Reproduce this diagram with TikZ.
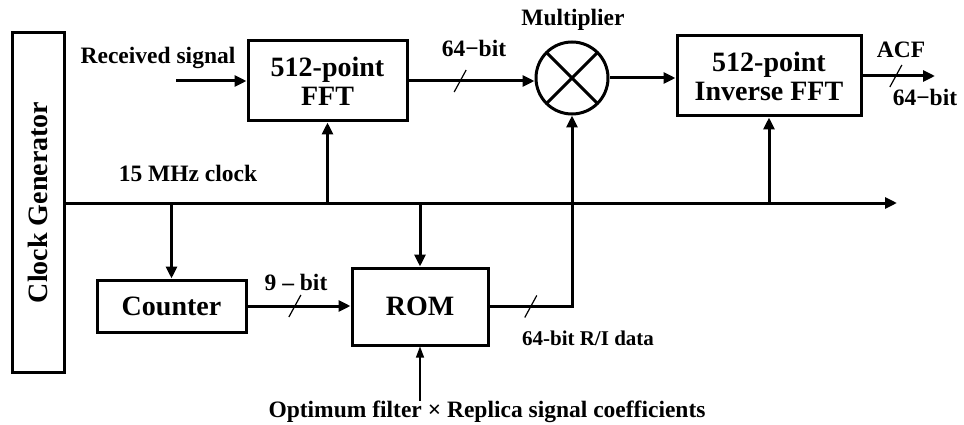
\documentclass[tikz,border=0pt]{standalone}
\usepackage{fontspec}
\usepackage{graphicx}
\setmainfont{Liberation Serif}
\usetikzlibrary{
  arrows.meta,
  calc,
  positioning
}
\tikzset{
  dspBlock/.style={
    draw,
    line width=3pt,
    align=center,
    inner sep=0pt,
    font=\fontsize{28}{29}\selectfont\bfseries
  },
  dspMixer/.style={
    circle,
    draw,
    line width=3pt,
    minimum size=72pt,
    inner sep=0pt,
    path picture={
      \draw[line width=3pt]
        (path picture bounding box.north west) -- (path picture bounding box.south east)
        (path picture bounding box.north east) -- (path picture bounding box.south west);
    }
  },
  dspArrow/.style={line width=3pt, -{Triangle[length=12pt, width=11pt]}},
  coefArrow/.style={line width=1.2pt, -{Triangle[length=11pt, width=8pt]}},
  busSlash/.style={line width=1.2pt},
  dspLabel/.style={font=\fontsize{23.5}{25}\selectfont\bfseries, inner sep=0pt},
  dataLabel/.style={font=\fontsize{21}{23}\selectfont\bfseries, inner sep=0pt}
}

\begin{document}
\begin{tikzpicture}[x=1pt,y=-1pt]
  \useasboundingbox (0,0) rectangle (964,425);

  % blocks
  \node[dspBlock, minimum width=52pt, minimum height=339pt]
    (clk) at (38,202.5) {\rotatebox{90}{Clock Generator}};
  \node[dspBlock, minimum width=159pt, minimum height=80pt]
    (fft) at (327.5,81) {512-point\\FFT};
  \node[dspMixer] (mult) at (572,78) {};
  \node[dspBlock, minimum width=184pt, minimum height=80pt]
    (ifft) at (769,76) {512-point\\Inverse FFT};
  \node[dspBlock, minimum width=149pt, minimum height=52pt]
    (cnt) at (171.5,306) {Counter};
  \node[dspBlock, minimum width=136pt, minimum height=77pt]
    (rom) at (420,306.5) {ROM};

  % free ends
  \coordinate (rxIn) at (176,81);
  \coordinate (busEnd) at (897,203);
  \coordinate (acfOut) at (935,76);

  % labels
  \node[dspLabel] (rxLbl) at (158,58) {Received signal};
  \node[dspLabel] (clkLbl) at (188,173) {15 MHz clock};
  \node[dspLabel] (bitA) at (474,48) {64−bit};
  \node[dspLabel] (multLbl) at (573,20) {Multiplier};
  \node[dspLabel] (acfLbl) at (901,50) {ACF};
  \node[dspLabel] (bitB) at (925,97) {64−bit};
  \node[dspLabel] (bitC) at (296,282) {9 – bit};
  \node[dataLabel] (romLbl) at (588,338) {64-bit R/I data};
  \node[dspLabel] (coef) at (487,412)
    {Optimum filter × Replica signal coefficients};

  % signal path
  \draw[dspArrow] (rxIn) -- (fft.west);
  \draw[dspArrow] (fft.east) -- coordinate[pos=0.41] (s64) (fft.east -| mult.west);
  \draw[dspArrow] (mult.east) -- (mult.east -| ifft.west);
  \draw[dspArrow] (ifft.east) -- coordinate[pos=0.46] (sAcf) (acfOut);
  \draw[dspArrow] (cnt.east) -- coordinate[pos=0.46] (s9) (cnt.east -| rom.west);
  \draw[dspArrow] (rom.east) -- coordinate[pos=0.5] (sRom) (rom.east -| mult.south)
    -- (mult.south);
  \draw[coefArrow] (coef.north -| rom.south) -- (rom.south);

  % clock bus
  \draw[dspArrow] (clk.east |- busEnd) -- (busEnd);
  \draw[dspArrow] (fft.south |- busEnd) -- (fft.south);
  \draw[dspArrow] (ifft.south |- busEnd) -- (ifft.south);
  \draw[dspArrow] (cnt.north |- busEnd) -- (cnt.north);
  \draw[dspArrow] (rom.north |- busEnd) -- (rom.north);

  % bus width marks
  \foreach \s in {s64,sAcf,s9,sRom}
    \draw[busSlash] ($(\s)+(-6,11)$) -- ($(\s)+(6,-11)$);
\end{tikzpicture}
\end{document}
